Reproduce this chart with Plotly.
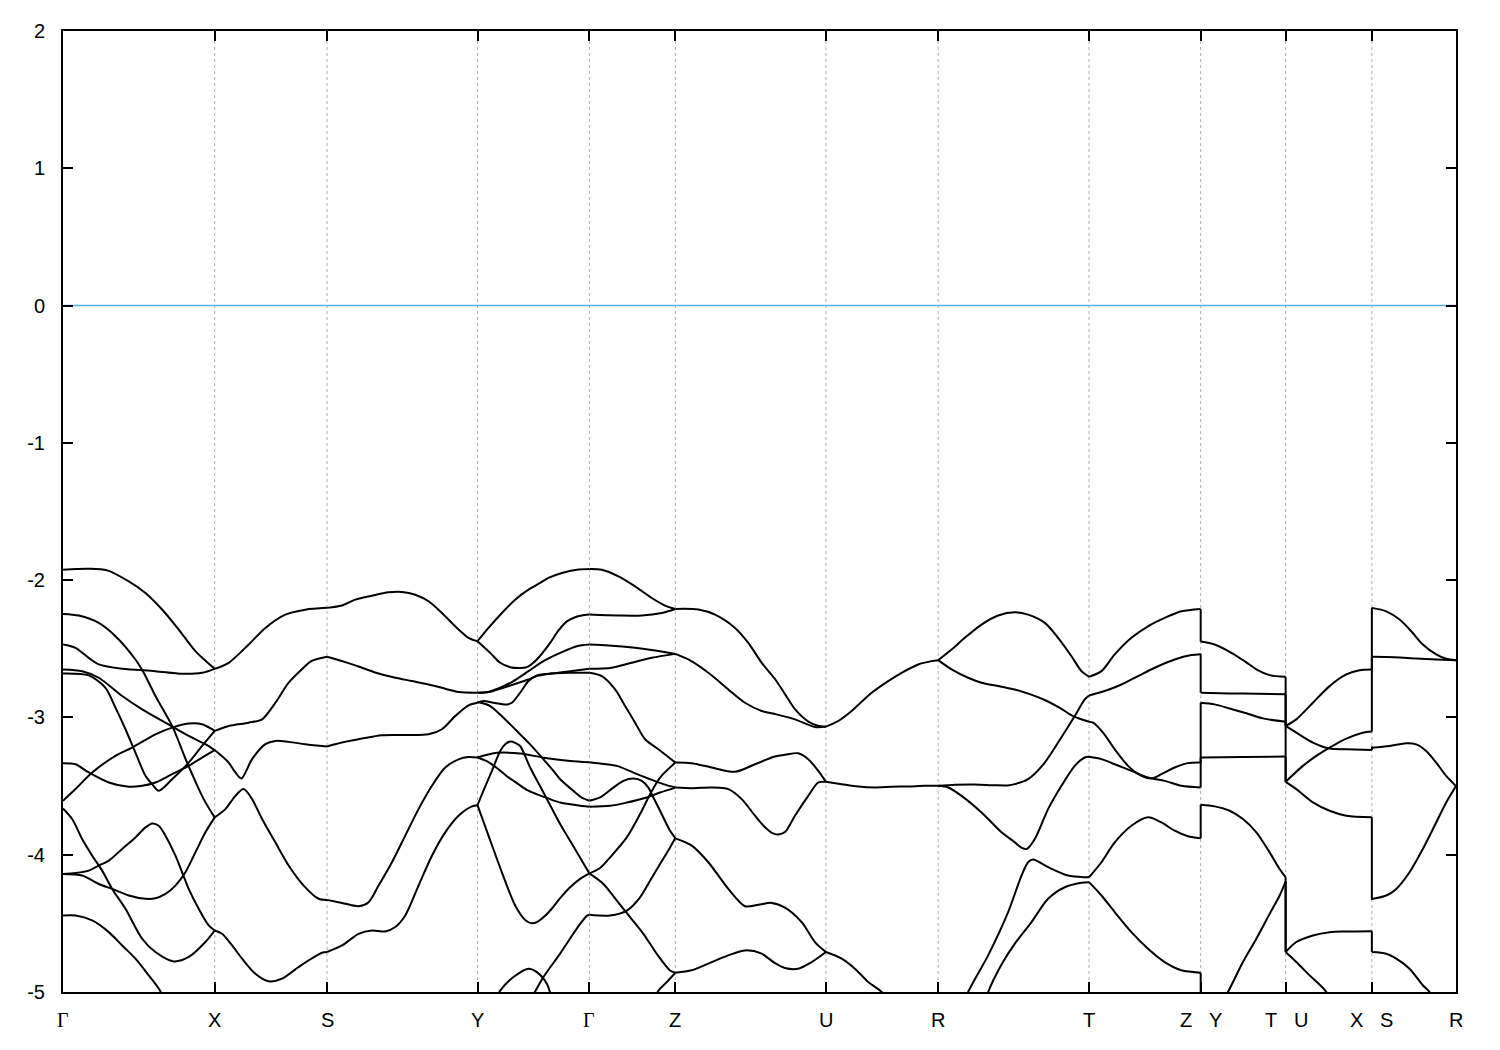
import plotly.graph_objects as go

# ---------------- k-path (x positions in path-length units) ----------------
KPOS = [62.5, 214.3, 326.7, 477.3, 589.3, 675.3, 826.0, 938.3, 1089.3, 1201.0, 1286.0, 1372.3, 1456.5]
KLABELS = ["Γ", "X", "S", "Y", "Γ", "Z", "U", "R", "T", "Z|Y", "T|U", "X|S", "R"]

YTICKS = [-5, -4, -3, -2, -1, 0, 1, 2]
YTICKTEXT = ["-5", "-4", "-3", "-2", "-1", "0", "1", "2"]
FERMI = 0.0

# ---------------- bands (x, E in eV), one list per path segment ----------------
SEG_G_X = [
    [(62.5,-1.924),(88.3,-1.917),(106.7,-1.929),(128.3,-2.009),(145,-2.093),(161.7,-2.214),(178.3,-2.36),(195,-2.517),(214.3,-2.646)],
    [(62.5,-2.469),(75,-2.493),(88.3,-2.566),(98.3,-2.614),(121.7,-2.646),(155,-2.663),(181.7,-2.682),(201.7,-2.675),(214.3,-2.646)],
    [(62.5,-2.246),(78.3,-2.258),(98.3,-2.311),(115,-2.408),(135,-2.578),(143.3,-2.675),(155,-2.844),(171.7,-3.062),(186.7,-3.329),(203.3,-3.595),(214.3,-3.728)],
    [(62.5,-2.65),(81.7,-2.663),(98.3,-2.711),(121.7,-2.844),(141.7,-2.941),(165,-3.038),(188.3,-3.135),(205,-3.195),(214.3,-3.238)],
    [(62.5,-2.68),(88.3,-2.694),(105,-2.784),(115,-2.929),(125,-3.086),(135,-3.256),(145,-3.425),(151.7,-3.486),(158.3,-3.534),(171.7,-3.45),(188.3,-3.329),(201.7,-3.208),(214.3,-3.098)],
    [(62.5,-3.333),(75,-3.341),(88.3,-3.401),(108.3,-3.474),(128.3,-3.505),(141.7,-3.498),(155,-3.474),(171.7,-3.413),(188.3,-3.353),(201.7,-3.292),(214.3,-3.238)],
    [(62.5,-3.607),(75,-3.522),(91.7,-3.401),(115,-3.28),(131.7,-3.22),(155,-3.123),(171.7,-3.074),(188.3,-3.045),(201.7,-3.05),(211.7,-3.086),(214.3,-3.098)],
    [(62.5,-3.663),(71.7,-3.74),(81.7,-3.886),(91.7,-4.007),(101.7,-4.116),(111.7,-4.249),(125,-4.394),(141.7,-4.612),(155,-4.709),(173.3,-4.777),(188.3,-4.745),(205,-4.636),(214.3,-4.552)],
    [(62.5,-4.14),(75,-4.133),(88.3,-4.116),(98.3,-4.079),(108.3,-4.043),(121.7,-3.958),(135,-3.874),(145,-3.801),(151.7,-3.772),(158.3,-3.789),(165,-3.861),(175,-4.007),(181.7,-4.128),(188.3,-4.249),(198.3,-4.394),(208.3,-4.515),(214.3,-4.552)],
    [(62.5,-4.14),(81.7,-4.152),(98.3,-4.213),(111.7,-4.249),(128.3,-4.297),(145,-4.321),(155,-4.317),(165,-4.285),(175,-4.225),(185,-4.128),(195,-3.983),(205,-3.837),(214.3,-3.728)],
    [(62.5,-4.443),(75,-4.443),(91.7,-4.479),(108.3,-4.564),(121.7,-4.661),(135,-4.757),(148.3,-4.879),(158.3,-4.975),(165,-5.06)],
]

SEG_X_S = [
    [(214.3,-2.646),(228.3,-2.602),(248.3,-2.469),(265,-2.348),(285,-2.251),(305,-2.215),(326.7,-2.202)],
    [(214.3,-3.098),(228.3,-3.062),(248.3,-3.038),(261.7,-3.014),(275,-2.893),(288.3,-2.747),(300,-2.66),(311,-2.59),(326.7,-2.558)],
    [(214.3,-3.238),(228.3,-3.329),(235,-3.401),(241,-3.445),(251.7,-3.304),(265,-3.195),(275,-3.171),(288.3,-3.178),(305,-3.195),(326.7,-3.212)],
    [(214.3,-3.728),(225,-3.668),(235,-3.571),(243.3,-3.522),(251.7,-3.595),(261.7,-3.74),(275,-3.91),(288.3,-4.079),(303.3,-4.225),(318.3,-4.321),(326.7,-4.329)],
    [(214.3,-4.552),(221.7,-4.576),(231.7,-4.661),(241.7,-4.757),(255,-4.867),(268.3,-4.922),(281.7,-4.903),(295,-4.835),(308.3,-4.77),(321.7,-4.714),(326.7,-4.709)],
]

SEG_S_Y = [
    [(326.7,-2.202),(341.7,-2.185),(355,-2.142),(371.7,-2.113),(388.3,-2.089),(401.7,-2.086),(415,-2.106),(428.3,-2.154),(441.7,-2.239),(455,-2.336),(468.3,-2.42),(477.3,-2.445)],
    [(326.7,-2.558),(345,-2.597),(361.7,-2.638),(378.3,-2.68),(395,-2.711),(411.7,-2.735),(428.3,-2.76),(445,-2.791),(458.3,-2.815),(477.3,-2.82)],
    [(326.7,-3.212),(341.7,-3.183),(361.7,-3.154),(381.7,-3.13),(401.7,-3.128),(428.3,-3.123),(441.7,-3.086),(455,-2.99),(468.3,-2.912),(477.3,-2.893)],
    [(326.7,-4.329),(341.7,-4.351),(358.3,-4.375),(368.3,-4.346),(378.3,-4.225),(391.7,-4.055),(405,-3.861),(418.3,-3.668),(431.7,-3.498),(445,-3.365),(458.3,-3.305),(468.3,-3.288),(477.3,-3.292)],
    [(326.7,-4.709),(341.7,-4.661),(358.3,-4.576),(371.7,-4.552),(385,-4.559),(395,-4.527),(405,-4.443),(418.3,-4.225),(431.7,-4.007),(445,-3.837),(458.3,-3.716),(471.7,-3.648),(477.3,-3.639)],
]

SEG_Y_G = [
    [(477.3,-2.445),(488.3,-2.348),(501.7,-2.239),(515,-2.142),(528.3,-2.069),(540,-2.02),(548.3,-1.984),(561.7,-1.948),(576.7,-1.924),(589.3,-1.919)],
    [(477.3,-2.445),(490,-2.53),(500,-2.602),(510,-2.634),(520,-2.64),(526.7,-2.634),(536.7,-2.578),(550,-2.457),(558,-2.37),(566.7,-2.30),(575,-2.27),(581.7,-2.258),(589.3,-2.251)],
    [(477.3,-2.82),(487,-2.816),(500,-2.784),(513.3,-2.735),(528.3,-2.663),(543.3,-2.59),(560,-2.53),(576.7,-2.481),(589.3,-2.469)],
    [(477.3,-2.82),(490,-2.813),(500,-2.791),(513.3,-2.76),(528.3,-2.724),(536.7,-2.699),(550,-2.682),(570,-2.663),(589.3,-2.646)],
    [(477.3,-2.893),(483.3,-2.881),(493.3,-2.893),(506.7,-2.905),(511.7,-2.893),(520,-2.82),(528.3,-2.735),(536.7,-2.694),(550,-2.68),(570,-2.675),(589.3,-2.675)],
    [(477.3,-2.886),(490,-2.917),(503.3,-3.002),(516.7,-3.099),(530,-3.196),(543.3,-3.305),(553.3,-3.39),(560,-3.45),(573.3,-3.535),(582,-3.585),(589.3,-3.607)],
    [(477.3,-3.292),(496.7,-3.258),(520,-3.263),(543.3,-3.293),(570,-3.317),(589.3,-3.327)],
    [(477.3,-3.292),(487,-3.32),(497,-3.37),(507,-3.43),(517,-3.48),(527,-3.53),(537,-3.56),(548,-3.59),(560,-3.62),(576.7,-3.639),(589.3,-3.651)],
    [(477.3,-3.639),(484,-3.52),(491.7,-3.39),(500,-3.244),(505,-3.195),(510,-3.176),(515,-3.185),(520,-3.208),(530,-3.365),(545,-3.57),(560,-3.777),(575,-3.96),(589.3,-4.136)],
    [(477.3,-3.639),(488.3,-3.861),(501.7,-4.128),(515,-4.37),(525,-4.475),(531.7,-4.50),(538,-4.485),(545,-4.445),(552,-4.39),(560,-4.316),(570,-4.237),(580,-4.176),(589.3,-4.136)],
    [(531,-5.05),(543.3,-4.891),(560,-4.72),(570,-4.61),(580,-4.504),(586.7,-4.445),(589.3,-4.438)],
    [(495,-5.06),(500,-4.99),(513.3,-4.891),(528.3,-4.83),(536.7,-4.855),(546.7,-4.94),(552,-5.06)],
]

SEG_G_Z = [
    [(589.3,-1.919),(601.7,-1.924),(618.3,-1.972),(635,-2.045),(651.7,-2.13),(665,-2.185),(675.3,-2.21)],
    [(589.3,-2.251),(618.3,-2.258),(641.7,-2.258),(661.7,-2.239),(675.3,-2.21)],
    [(589.3,-2.469),(608.3,-2.476),(635,-2.493),(655,-2.512),(675.3,-2.537)],
    [(589.3,-2.646),(611.7,-2.638),(631.7,-2.602),(651.7,-2.566),(675.3,-2.537)],
    [(589.3,-2.675),(601.7,-2.7),(615,-2.796),(625,-2.917),(635,-3.038),(645,-3.159),(658.3,-3.232),(675.3,-3.329)],
    [(589.3,-3.327),(600,-3.336),(616.7,-3.353),(633.3,-3.402),(650,-3.45),(663.3,-3.486),(675.3,-3.511)],
    [(589.3,-3.651),(610,-3.644),(626.7,-3.62),(646.7,-3.583),(660,-3.547),(675.3,-3.511)],
    [(589.3,-3.607),(600,-3.583),(613.3,-3.511),(623.3,-3.462),(633.3,-3.445),(641.7,-3.462),(648.3,-3.511),(653.3,-3.583),(660,-3.68),(670,-3.825),(675.3,-3.879)],
    [(589.3,-4.136),(600,-4.097),(610,-4.019),(626.7,-3.874),(640,-3.704),(650,-3.559),(660,-3.438),(675.3,-3.329)],
    [(589.3,-4.136),(603.3,-4.213),(616.7,-4.334),(630,-4.455),(643.3,-4.576),(656.7,-4.722),(670,-4.843),(675.3,-4.86)],
    [(589.3,-4.438),(610,-4.443),(626.7,-4.407),(640,-4.31),(650,-4.189),(660,-4.068),(670,-3.947),(675.3,-3.879)],
    [(650,-5.1),(656.7,-5.01),(660,-4.976),(666.7,-4.928),(675.3,-4.86)],
]

SEG_Z_U = [
    [(675.3,-2.21),(698.3,-2.214),(715,-2.251),(735,-2.348),(748.3,-2.457),(761.7,-2.602),(775,-2.72),(785,-2.83),(795,-2.94),(808.3,-3.03),(818,-3.06),(826,-3.067)],
    [(675.3,-2.537),(688.3,-2.578),(708.3,-2.675),(728.3,-2.796),(745,-2.893),(761.7,-2.953),(775,-2.975),(795,-3.014),(815,-3.07),(826,-3.067)],
    [(675.3,-3.329),(691.7,-3.333),(711.7,-3.365),(735,-3.396),(755,-3.341),(775,-3.285),(785,-3.272),(798.3,-3.261),(808.3,-3.304),(818.3,-3.389),(826,-3.469)],
    [(675.3,-3.511),(691.7,-3.515),(711.7,-3.51),(728.3,-3.522),(741.7,-3.595),(755,-3.716),(765,-3.8),(773,-3.845),(778,-3.852),(785,-3.835),(795,-3.716),(808.3,-3.571),(818.3,-3.474),(826,-3.469)],
    [(675.3,-3.881),(691.7,-3.934),(708.3,-4.055),(728.3,-4.249),(745,-4.375),(758.3,-4.365),(771.7,-4.351),(785,-4.385),(801.7,-4.491),(815,-4.636),(826,-4.709)],
    [(675.3,-4.859),(691.7,-4.842),(711.7,-4.782),(728.3,-4.733),(745,-4.697),(761.7,-4.721),(775,-4.79),(785,-4.825),(798.3,-4.83),(811.7,-4.782),(826,-4.709)],
]

SEG_U_R = [
    [(826,-3.067),(838.3,-3.026),(851.7,-2.953),(871.7,-2.82),(888.3,-2.735),(901.7,-2.675),(918.3,-2.614),(931.7,-2.59),(938.3,-2.583)],
    [(826,-3.469),(841.7,-3.486),(858.3,-3.503),(875,-3.51),(891.7,-3.505),(908.3,-3.503),(925,-3.498),(938.3,-3.498)],
    [(826,-4.709),(841.7,-4.757),(855,-4.83),(868.3,-4.927),(881.7,-5.0),(890,-5.1)],
]

SEG_R_T = [
    [(938.3,-2.583),(951.7,-2.505),(965,-2.42),(981.7,-2.324),(998.3,-2.258),(1015,-2.234),(1028.3,-2.251),(1045,-2.311),(1058.3,-2.42),(1071.7,-2.554),(1081.7,-2.663),(1089.3,-2.704)],
    [(938.3,-2.583),(951.7,-2.65),(968.3,-2.711),(981.7,-2.747),(1001.7,-2.776),(1015,-2.796),(1030,-2.83),(1045,-2.873),(1060,-2.93),(1073.3,-2.99),(1089.3,-3.031)],
    [(938.3,-3.498),(948.3,-3.51),(961.7,-3.571),(981.7,-3.692),(1001.7,-3.837),(1015,-3.91),(1022,-3.95),(1027,-3.958),(1035,-3.886),(1048.3,-3.668),(1061.7,-3.498),(1075,-3.353),(1085,-3.292),(1089.3,-3.287)],
    [(938.3,-3.498),(955,-3.49),(975,-3.488),(995,-3.494),(1008,-3.495),(1015,-3.486),(1028.3,-3.45),(1045,-3.329),(1058.3,-3.183),(1075,-2.99),(1085,-2.868),(1089.3,-2.84)],
    [(964,-5.1),(968.3,-5.0),(988.3,-4.733),(1008.3,-4.418),(1021.7,-4.152),(1028.3,-4.055),(1033.3,-4.035),(1048.3,-4.091),(1068.3,-4.152),(1085,-4.164),(1089.3,-4.164)],
    [(984,-5.1),(988.3,-5.0),(1001.7,-4.80),(1015,-4.648),(1031.7,-4.491),(1048.3,-4.321),(1065,-4.237),(1081.7,-4.205),(1089.3,-4.2)],
]

SEG_T_Z = [
    [(1089.3,-2.704),(1101.7,-2.663),(1115,-2.541),(1131.7,-2.42),(1148.3,-2.336),(1165,-2.275),(1181.7,-2.227),(1201,-2.21)],
    [(1089.3,-2.84),(1105,-2.808),(1121.7,-2.76),(1138.3,-2.699),(1155,-2.638),(1175,-2.578),(1191.7,-2.546),(1201,-2.539)],
    [(1089.3,-3.031),(1093.3,-3.038),(1103.3,-3.111),(1115,-3.232),(1128.3,-3.353),(1141.7,-3.426),(1151.7,-3.445),(1161.7,-3.413),(1175,-3.365),(1188.3,-3.333),(1201,-3.329)],
    [(1089.3,-3.287),(1101.7,-3.304),(1115,-3.341),(1131.7,-3.389),(1148.3,-3.438),(1165,-3.462),(1181.7,-3.498),(1201,-3.51)],
    [(1089.3,-4.164),(1101.7,-4.055),(1115,-3.91),(1131.7,-3.789),(1148.3,-3.728),(1161.7,-3.765),(1175,-3.825),(1188.3,-3.866),(1201,-3.881)],
    [(1089.3,-4.2),(1101.7,-4.297),(1115,-4.418),(1131.7,-4.564),(1148.3,-4.685),(1165,-4.782),(1181.7,-4.842),(1201,-4.859)],
]

SEG_Y_T = [
    [(1201,-2.447),(1215,-2.469),(1231.7,-2.529),(1246,-2.595),(1258,-2.655),(1270,-2.692),(1286,-2.704)],
    [(1201,-2.82),(1230,-2.825),(1258,-2.827),(1286,-2.832)],
    [(1201,-2.893),(1215,-2.905),(1230,-2.935),(1246.7,-2.97),(1263.3,-3.007),(1286,-3.031)],
    [(1201,-3.292),(1243,-3.288),(1286,-3.285)],
    [(1201,-3.636),(1215,-3.648),(1230,-3.68),(1243.3,-3.74),(1256.7,-3.837),(1270,-3.983),(1280,-4.104),(1286,-4.164)],
    [(1215,-5.17),(1228.3,-5.0),(1243.3,-4.782),(1256.7,-4.612),(1270,-4.431),(1280,-4.297),(1286,-4.196)],
]

SEG_U_X = [
    [(1286,-3.062),(1296.7,-3.014),(1313.3,-2.893),(1330,-2.772),(1346.7,-2.687),(1360,-2.656),(1372.3,-2.651)],
    [(1286,-3.062),(1296.7,-3.111),(1313.3,-3.183),(1330,-3.227),(1346.7,-3.232),(1372.3,-3.237)],
    [(1286,-3.469),(1303.3,-3.353),(1316.7,-3.28),(1330,-3.22),(1346.7,-3.154),(1363.3,-3.111),(1372.3,-3.103)],
    [(1286,-3.469),(1296.7,-3.522),(1313.3,-3.619),(1330,-3.68),(1346.7,-3.716),(1372.3,-3.728)],
    [(1286,-4.709),(1296.7,-4.636),(1313.3,-4.588),(1330,-4.564),(1346.7,-4.559),(1372.3,-4.557)],
    [(1286,-4.709),(1296.7,-4.782),(1310,-4.879),(1326.7,-5.0),(1332,-5.1)],
]

SEG_S_R = [
    [(1372.3,-2.202),(1386.7,-2.227),(1400,-2.287),(1411.7,-2.372),(1423.3,-2.469),(1436.7,-2.541),(1446.7,-2.573),(1456.5,-2.583)],
    [(1372.3,-2.558),(1395,-2.561),(1416.7,-2.571),(1436.7,-2.578),(1456.5,-2.583)],
    [(1372.3,-3.22),(1390,-3.208),(1406.7,-3.188),(1416.7,-3.196),(1426.7,-3.244),(1436.7,-3.329),(1446.7,-3.426),(1456.5,-3.5)],
    [(1372.3,-4.322),(1386.7,-4.297),(1396.7,-4.249),(1410,-4.128),(1423.3,-3.958),(1436.7,-3.765),(1446.7,-3.619),(1456.5,-3.5)],
    [(1372.3,-4.709),(1386.7,-4.721),(1396.7,-4.757),(1410,-4.83),(1423.3,-4.951),(1430,-5.0),(1434,-5.1)],
]

# vertical connections at the path discontinuities: (x, E_left, E_right)
JUMPS = [
    (1201.0, -2.21, -2.447), (1201.0, -2.537, -2.82), (1201.0, -3.329, -2.893),
    (1201.0, -3.51, -3.292), (1201.0, -3.881, -3.636), (1201.0, -4.86, -5.3),
    (1286.0, -2.704, -3.062), (1286.0, -2.832, -3.062), (1286.0, -3.031, -3.469),
    (1286.0, -3.285, -3.469), (1286.0, -4.164, -4.709), (1286.0, -4.196, -4.709),
    (1372.3, -2.651, -2.202), (1372.3, -3.103, -2.558), (1372.3, -3.237, -3.212),
    (1372.3, -3.728, -4.329), (1372.3, -4.557, -4.709),
]

SEGMENTS = [SEG_G_X, SEG_X_S, SEG_S_Y, SEG_Y_G, SEG_G_Z, SEG_Z_U, SEG_U_R,
            SEG_R_T, SEG_T_Z, SEG_Y_T, SEG_U_X, SEG_S_R]

fig = go.Figure()

# Fermi level
fig.add_trace(go.Scatter(x=[KPOS[0], KPOS[-1]], y=[FERMI, FERMI], mode="lines",
                         line=dict(color="#56b4e9", width=1.5),
                         showlegend=False, hoverinfo="skip"))

for seg in SEGMENTS:
    for band in seg:
        xs = [p[0] for p in band]
        ys = [p[1] for p in band]
        fig.add_trace(go.Scatter(x=xs, y=ys, mode="lines",
                                 line=dict(color="black", width=2, shape="spline", smoothing=0.8),
                                 showlegend=False, hoverinfo="skip"))

for xj, e1, e2 in JUMPS:
    fig.add_trace(go.Scatter(x=[xj, xj], y=[e1, e2], mode="lines",
                             line=dict(color="black", width=2),
                             showlegend=False, hoverinfo="skip"))

# dashed vertical lines at high-symmetry points
shapes = []
for k in KPOS[1:-1]:
    shapes.append(dict(type="line", xref="x", yref="paper", x0=k, x1=k, y0=0, y1=1,
                       line=dict(color="#b0b0b0", width=1, dash="3px,3px"), layer="below"))

# k-point labels
annotations = []
for k, lab in zip(KPOS, KLABELS):
    parts = lab.split("|")
    if len(parts) == 1:
        placements = [(k, parts[0], 0)]
    else:
        placements = [(k, parts[0], -15), (k, parts[1], 15)]
    for xk, txt, dx in placements:
        fam = "Liberation Serif" if txt == "Γ" else "Liberation Sans, Arial"
        annotations.append(dict(x=xk, y=0, xref="x", yref="paper", text=txt, showarrow=False,
                                xanchor="center", yanchor="middle", xshift=dx, yshift=-28,
                                font=dict(family=fam, size=20, color="black")))

fig.update_layout(
    width=1500, height=1050,
    paper_bgcolor="white", plot_bgcolor="white",
    margin=dict(l=55, r=52, t=20, b=66),
    shapes=shapes, annotations=annotations,
    showlegend=False,
    font=dict(family="Liberation Sans, Arial", size=20, color="black"),
)
fig.update_xaxes(range=[KPOS[0], KPOS[-1]], showgrid=False, zeroline=False,
                 showline=True, linecolor="black", linewidth=2, mirror="ticks",
                 ticks="inside", ticklen=10, tickwidth=1.5, tickcolor="black",
                 tickvals=KPOS, showticklabels=False)
fig.update_yaxes(range=[-5, 2], showgrid=False, zeroline=False,
                 showline=True, linecolor="black", linewidth=2, mirror="ticks",
                 ticks="inside", ticklen=10, tickwidth=1.5, tickcolor="black",
                 tickvals=YTICKS, ticktext=YTICKTEXT, ticklabelstandoff=12,
                 tickfont=dict(family="Liberation Sans, Arial", size=20, color="black"))

fig.write_html("out.html")
